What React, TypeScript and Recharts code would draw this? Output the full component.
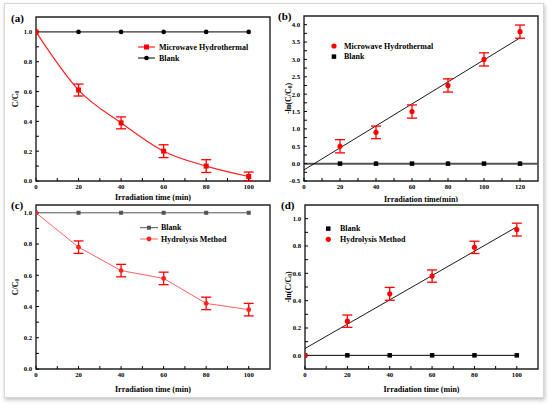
import React from 'react';
import {
  ComposedChart,
  Line,
  Scatter,
  XAxis,
  YAxis,
  ErrorBar,
  ReferenceArea,
  ReferenceLine,
} from 'recharts';

const FONT = '"Liberation Serif", "Times New Roman", serif';

// (a) C/C0 vs time, microwave hydrothermal sample
const timeA = [0, 20, 40, 60, 80, 100];
const microA = [1.0, 0.61, 0.39, 0.2, 0.1, 0.03];
const microErrA = [0, 0.04, 0.04, 0.043, 0.043, 0.03];
const blankA = [1, 1, 1, 1, 1, 1];

// (b) -ln(C/C0) vs time, microwave hydrothermal sample
const timeB = [20, 40, 60, 80, 100, 120];
const microB = [0.5, 0.9, 1.5, 2.25, 3.0, 3.8];
const microErrB = [0.19, 0.18, 0.19, 0.19, 0.19, 0.19];
const blankB = [0, 0, 0, 0, 0, 0];
const fitXB = [0, 120];
const fitYB = [-0.18, 3.62];

// (c) C/C0 vs time, hydrolysis sample
const timeC = [0, 20, 40, 60, 80, 100];
const blankC = [1, 1, 1, 1, 1, 1];
const hydroC = [1.0, 0.78, 0.63, 0.58, 0.42, 0.38];
const hydroErrC = [0, 0.04, 0.04, 0.04, 0.04, 0.04];

// (d) -ln(C/C0) vs time, hydrolysis sample
const timeD = [0, 20, 40, 60, 80, 100];
const blankD = [0, 0, 0, 0, 0, 0];
const hydroD = [0, 0.25, 0.45, 0.58, 0.79, 0.92];
const hydroErrD = [0, 0.045, 0.047, 0.045, 0.045, 0.047];
const fitXD = [0, 100];
const fitYD = [0.05, 0.94];

// ticks (odd ones are minor, unlabeled)
const xTicks100 = [0, 10, 20, 30, 40, 50, 60, 70, 80, 90, 100];
const xTicks120 = [0, 10, 20, 30, 40, 50, 60, 70, 80, 90, 100, 110, 120];
const yTicksUnit = [0, 0.1, 0.2, 0.3, 0.4, 0.5, 0.6, 0.7, 0.8, 0.9, 1.0];
const yTicksB = [-0.5, -0.25, 0, 0.25, 0.5, 0.75, 1, 1.25, 1.5, 1.75, 2, 2.25, 2.5, 2.75, 3, 3.25, 3.5, 3.75, 4];

const rowsA = timeA.map((x, i) => ({ x, micro: microA[i], err: microErrA[i], blank: blankA[i] }));
const rowsB = timeB.map((x, i) => ({ x, micro: microB[i], err: microErrB[i], blank: blankB[i] }));
const fitB = fitXB.map((x, i) => ({ x, y: fitYB[i] }));
const rowsC = timeC.map((x, i) => ({ x, blank: blankC[i], hydro: hydroC[i], err: hydroErrC[i] }));
const rowsD = timeD.map((x, i) => ({ x, blank: blankD[i], hydro: hydroD[i], err: hydroErrD[i] }));
const fitD = fitXD.map((x, i) => ({ x, y: fitYD[i] }));

const tickFont = { fontSize: 6.7, fontFamily: FONT, fontWeight: 700, fill: '#000' };
const fmtX = (v: number) => (v % 20 === 0 ? String(v) : '');
const fmtY = (v: number) => (Math.round(v * 10) % 2 === 0 ? v.toFixed(1) : '');
const fmtYB = (v: number) => (Math.round(v * 4) % 2 === 0 ? v.toFixed(1) : '');

const squareDot = (color: string, size: number) => (p: any) => (
  <rect key={`s-${p.index}`} x={p.cx - size / 2} y={p.cy - size / 2} width={size} height={size} fill={color} />
);
const circleDot = (color: string, r: number) => (p: any) => (
  <circle key={`c-${p.index}`} cx={p.cx} cy={p.cy} r={r} fill={color} />
);

const XTitle = (props: any) => {
  const vb = props.viewBox || { x: 0, y: 0, width: 0 };
  return (
    <text x={vb.x + vb.width / 2} y={vb.y + props.dy} textAnchor="middle" dominantBaseline="central"
      fontFamily={FONT} fontWeight={700} fontSize={8} fill="#000">
      {props.text}
    </text>
  );
};

const YTitle = (props: any) => {
  const vb = props.viewBox || { x: 0, y: 0, height: 0 };
  const cx = vb.x + props.dx;
  const cy = vb.y + vb.height / 2;
  return (
    <text transform={`translate(${cx},${cy}) rotate(-90)`} textAnchor="middle" dominantBaseline="central"
      fontFamily={FONT} fontWeight={700} fontSize={8} fill="#000">
      {props.pre}C/C<tspan dy={2} fontSize={5.5}>0</tspan><tspan dy={-2}>{props.post}</tspan>
    </text>
  );
};

const xAxisCommon = {
  type: 'number' as const,
  dataKey: 'x',
  interval: 0 as const,
  tickSize: -3,
  tickMargin: 6,
  axisLine: false,
  tickLine: { stroke: '#000', strokeWidth: 1 },
  tick: tickFont,
  tickFormatter: fmtX,
  height: 20,
  allowDataOverflow: true,
};

const yAxisCommon = {
  type: 'number' as const,
  interval: 0 as const,
  tickSize: -3,
  tickMargin: 7,
  axisLine: false,
  tickLine: { stroke: '#000', strokeWidth: 1 },
  tick: tickFont,
  allowDataOverflow: true,
};

const frame = { fill: 'none', fillOpacity: 0, stroke: '#222', strokeWidth: 1.4 };
const errRed = { stroke: '#ff0000', strokeWidth: 1.3, width: 5 };

const PanelA = () => (
  <ComposedChart width={275} height={202} data={rowsA} margin={{ top: 17, right: 5, left: 0, bottom: 1 }}>
    <XAxis {...xAxisCommon} domain={[0, 110]} ticks={xTicks100} label={<XTitle text="Irradiation time (min)" dy={16} />} />
    <YAxis {...yAxisCommon} width={36} domain={[0, 1.1]} ticks={yTicksUnit} tickFormatter={fmtY}
      label={<YTitle pre="" post="" dx={15} />} />
    <ReferenceArea x1={0} x2={110} y1={0} y2={1.1} {...frame} />
    <Line dataKey="blank" stroke="#000" strokeWidth={1} dot={circleDot('#000', 2.3)} isAnimationActive={false} />
    <Line type="monotone" dataKey="micro" stroke="#ff2020" strokeWidth={1.2} dot={squareDot('#ff0000', 5)} isAnimationActive={false}>
      <ErrorBar dataKey="err" direction="y" {...errRed} />
    </Line>
  </ComposedChart>
);

const PanelB = () => (
  <ComposedChart width={275} height={202} data={rowsB} margin={{ top: 16, right: 12, left: 0, bottom: 1 }}>
    <XAxis {...xAxisCommon} domain={[0, 130]} ticks={xTicks120} label={<XTitle text="Irradiation time(min)" dy={18} />} />
    <YAxis {...yAxisCommon} width={29} domain={[-0.5, 4.25]} ticks={yTicksB} tickFormatter={fmtYB}
      label={<YTitle pre="-ln(" post=")" dx={13} />} />
    <ReferenceArea x1={0} x2={130} y1={-0.5} y2={4.25} {...frame} />
    <ReferenceLine y={0} stroke="#555" strokeWidth={2} />
    <Line data={fitB} dataKey="y" stroke="#000" strokeWidth={0.9} dot={false} isAnimationActive={false} />
    <Scatter dataKey="blank" fill="#000" shape={squareDot('#000', 4.5)} isAnimationActive={false} />
    <Scatter dataKey="micro" fill="#ff0000" shape={circleDot('#ff0000', 2.6)} isAnimationActive={false}>
      <ErrorBar dataKey="err" direction="y" {...errRed} />
    </Scatter>
  </ComposedChart>
);

const PanelC = () => (
  <ComposedChart width={275} height={202} data={rowsC} margin={{ top: 3, right: 5, left: 0, bottom: 15 }}>
    <XAxis {...xAxisCommon} domain={[0, 110]} ticks={xTicks100} label={<XTitle text="Irradiation time (min)" dy={20} />} />
    <YAxis {...yAxisCommon} width={36} domain={[0, 1.05]} ticks={yTicksUnit} tickFormatter={fmtY}
      label={<YTitle pre="" post="" dx={15} />} />
    <ReferenceArea x1={0} x2={110} y1={0} y2={1.05} {...frame} />
    <Line dataKey="blank" stroke="#555" strokeWidth={1} dot={squareDot('#555', 4)} isAnimationActive={false} />
    <Line dataKey="hydro" stroke="#ff6060" strokeWidth={1} dot={circleDot('#ff2020', 2.4)} isAnimationActive={false}>
      <ErrorBar dataKey="err" direction="y" {...errRed} />
    </Line>
  </ComposedChart>
);

const PanelD = () => (
  <ComposedChart width={275} height={202} data={rowsD} margin={{ top: 3, right: 12, left: 0, bottom: 15 }}>
    <XAxis {...xAxisCommon} domain={[0, 110]} ticks={xTicks100} label={<XTitle text="Irradiation time (min)" dy={20} />} />
    <YAxis {...yAxisCommon} width={30} domain={[-0.1, 1.1]} ticks={yTicksUnit} tickFormatter={fmtY}
      label={<YTitle pre="-ln(" post=")" dx={13} />} />
    <ReferenceArea x1={0} x2={110} y1={-0.1} y2={1.1} {...frame} />
    <Line dataKey="blank" stroke="#000" strokeWidth={1} dot={squareDot('#000', 4.5)} isAnimationActive={false} />
    <Line data={fitD} dataKey="y" stroke="#000" strokeWidth={0.9} dot={false} isAnimationActive={false} />
    <Scatter dataKey="hydro" fill="#ff0000" shape={circleDot('#ff0000', 2.6)} isAnimationActive={false}>
      <ErrorBar dataKey="err" direction="y" {...errRed} />
    </Scatter>
  </ComposedChart>
);

const legendText = { fontFamily: FONT, fontWeight: 700, fontSize: 8, fill: '#000', dominantBaseline: 'central' as const };
const letterText = { fontFamily: FONT, fontWeight: 700, fontSize: 11, fill: '#000', dominantBaseline: 'central' as const };

const Overlay = () => (
  <svg width={550} height={404} style={{ position: 'absolute', left: 0, top: 0, pointerEvents: 'none' }}>
    <text x={11} y={18} {...letterText}>(a)</text>
    <text x={278} y={16} {...letterText}>(b)</text>
    <text x={11} y={205} {...letterText}>(c)</text>
    <text x={281} y={205} {...letterText}>(d)</text>

    {/* legend (a) */}
    <line x1={138} x2={155} y1={47} y2={47} stroke="#ff2020" strokeWidth={1.2} />
    <rect x={144} y={44.5} width={5} height={5} fill="#ff0000" />
    <text x={159} y={47} {...legendText}>Microwave Hydrothermal</text>
    <line x1={138} x2={155} y1={58} y2={58} stroke="#000" strokeWidth={1} />
    <circle cx={146.5} cy={58} r={2.3} fill="#000" />
    <text x={159} y={58} {...legendText}>Blank</text>

    {/* legend (b) */}
    <circle cx={334} cy={46} r={2.6} fill="#ff0000" />
    <text x={344} y={46} {...legendText}>Microwave Hydrothermal</text>
    <rect x={331.7} y={54.4} width={4.5} height={4.5} fill="#000" />
    <text x={344} y={56.7} {...legendText}>Blank</text>

    {/* legend (c) */}
    <line x1={140} x2={158} y1={227.7} y2={227.7} stroke="#555" strokeWidth={1} />
    <rect x={147} y={225.7} width={4} height={4} fill="#555" />
    <text x={161} y={227.7} {...legendText}>Blank</text>
    <line x1={140} x2={158} y1={239} y2={239} stroke="#ff6060" strokeWidth={1} />
    <circle cx={149} cy={239} r={2.4} fill="#ff2020" />
    <text x={161} y={239} {...legendText}>Hydrolysis Method</text>

    {/* legend (d) */}
    <rect x={326} y={226.4} width={4.5} height={4.5} fill="#000" />
    <text x={340} y={228.7} {...legendText}>Blank</text>
    <circle cx={328.3} cy={239.3} r={2.6} fill="#ff0000" />
    <text x={340} y={239.3} {...legendText}>Hydrolysis Method</text>
  </svg>
);

export default function App() {
  return (
    <div style={{ position: 'absolute', left: 0, top: 0, width: 550, height: 404, background: '#fff', overflow: 'hidden' }}>
      <div style={{
        position: 'absolute', left: 4, top: 3, width: 538, height: 393,
        border: '1px solid #d6d6d6', boxShadow: '1px 2px 4px rgba(0,0,0,0.25)', background: '#fff',
      }} />
      <div style={{ position: 'absolute', left: 0, top: 0 }}><PanelA /></div>
      <div style={{ position: 'absolute', left: 275, top: 0 }}><PanelB /></div>
      <div style={{ position: 'absolute', left: 0, top: 202 }}><PanelC /></div>
      <div style={{ position: 'absolute', left: 275, top: 202 }}><PanelD /></div>
      <Overlay />
    </div>
  );
}
